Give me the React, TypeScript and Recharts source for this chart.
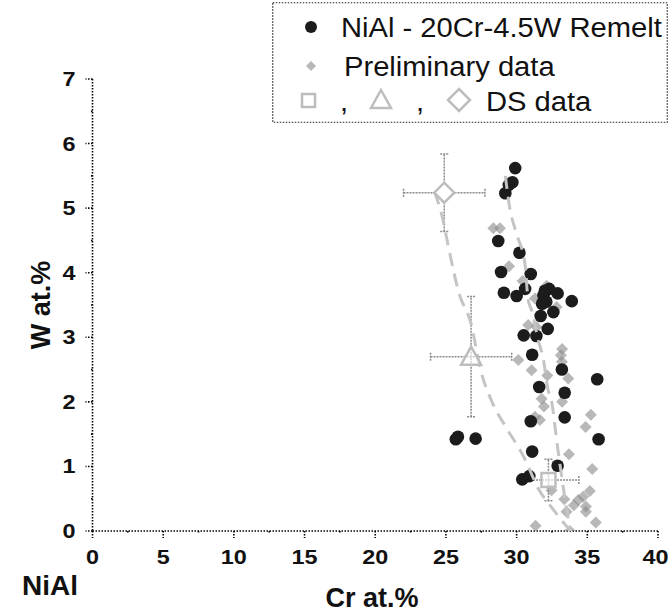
import React from 'react';
import { ScatterChart, Scatter, XAxis, YAxis, ErrorBar, Legend, Customized } from 'recharts';

const FONT = '"Liberation Sans", Arial, Helvetica, sans-serif';

// NiAl - 20Cr-4.5W Remelt (black dots)
const remeltCr = [29.9, 29.7, 29.45, 29.2, 28.7, 30.2, 28.9, 31.0, 29.1, 30.0, 30.6, 32.3, 31.9, 32.9, 32.1, 31.8, 32.0, 32.6, 33.9, 31.7, 32.2, 30.5, 31.4, 31.1, 33.2, 35.7, 31.6, 33.4, 31.0, 33.4, 25.7, 25.85, 27.1, 35.8, 31.1, 32.9, 30.4, 30.9];
const remeltW = [5.62, 5.4, 5.36, 5.23, 4.49, 4.31, 4.01, 3.98, 3.69, 3.64, 3.75, 3.75, 3.65, 3.68, 3.55, 3.52, 3.72, 3.39, 3.56, 3.33, 3.13, 3.03, 3.02, 2.73, 2.5, 2.35, 2.23, 2.14, 1.7, 1.76, 1.42, 1.46, 1.43, 1.42, 1.23, 1.01, 0.8, 0.85];

// Preliminary data (grey diamonds)
const prelimCr = [28.35, 28.82, 29.46, 30.42, 32.12, 31.3, 32.83, 30.82, 31.4, 33.22, 33.13, 30.12, 31.06, 32.17, 33.65, 31.77, 31.93, 33.22, 31.3, 31.65, 35.25, 34.88, 33.7, 35.35, 32.47, 33.37, 35.18, 34.36, 34.71, 34.9, 33.53, 35.6, 31.34, 33.77, 34.05, 34.9, 33.2];
const prelimW = [4.69, 4.69, 4.1, 3.87, 3.8, 3.6, 3.47, 3.19, 3.16, 2.82, 2.72, 2.65, 2.49, 2.41, 2.36, 2.05, 1.93, 2.0, 1.77, 1.72, 1.8, 1.61, 1.19, 0.96, 0.63, 0.49, 0.62, 0.48, 0.53, 0.3, 0.3, 0.13, 0.08, 0.0, 0.4, 0.38, 2.62];

// DS data: square, triangle, diamond
const dsCr = [32.25, 26.78, 24.88];
const dsW = [0.79, 2.7, 5.24];
const dsCrErr = [2.15, 2.87, 2.88];
const dsWErr = [0.32, 0.93, 0.6];

// dashed guide curves
const fitLeftCr = [24.2, 24.7, 25.3, 25.9, 26.8, 27.4, 28.3, 29.3, 30.5, 31.6, 32.6, 33.8];
const fitLeftW = [5.25, 4.9, 4.27, 3.7, 3.19, 2.54, 1.98, 1.59, 1.15, 0.63, 0.33, 0.0];
const fitRightCr = [29.2, 29.5, 30.0, 30.6, 30.8, 31.1, 31.5, 31.9, 32.2, 32.5, 32.8, 33.4, 33.8];
const fitRightW = [5.5, 5.02, 4.6, 4.12, 3.6, 3.39, 2.98, 2.65, 2.21, 1.98, 1.46, 0.53, 0.0];

const xTicks = [0, 2.5, 5, 7.5, 10, 12.5, 15, 17.5, 20, 22.5, 25, 27.5, 30, 32.5, 35, 37.5, 40];
const yTicks = [0, 0.5, 1, 1.5, 2, 2.5, 3, 3.5, 4, 4.5, 5, 5.5, 6, 6.5, 7];

const zip = (xs: number[], ys: number[]) => xs.map((x, i) => ({ x, y: ys[i] }));

const remeltData = zip(remeltCr, remeltW);
const prelimData = zip(prelimCr, prelimW);
const fitLeftData = zip(fitLeftCr, fitLeftW);
const fitRightData = zip(fitRightCr, fitRightW);
const dsData = dsCr.map((x, i) => ({ x, y: dsW[i], ex: dsCrErr[i], ey: dsWErr[i] }));

const DOT = '1.5 1.5';

const XTick = (props: any) => {
  const { x, y, payload } = props;
  const v = payload.value;
  const major = v % 5 === 0;
  const shift = v === 40 ? -2.5 : 0;
  return (
    <g>
      <line x1={x} x2={x} y1={y} y2={y + (major ? 7 : 3)} stroke="#000" strokeWidth={1.6} strokeDasharray={DOT} />
      {major && (
        <text transform={`translate(${x + shift},${y + 33}) scale(1.2,1)`} textAnchor="middle" fontFamily={FONT} fontWeight="bold" fontSize={19.5} fill="#111">
          {v}
        </text>
      )}
    </g>
  );
};

const YTick = (props: any) => {
  const { x, y, payload } = props;
  const v = payload.value;
  const major = Number.isInteger(v);
  return (
    <g>
      <line x1={x} x2={x - (major ? 7 : 3)} y1={y} y2={y} stroke="#000" strokeWidth={1.6} strokeDasharray={DOT} />
      {major && (
        <text transform={`translate(${x - 17},${y + 7}) scale(1.2,1)`} textAnchor="end" fontFamily={FONT} fontWeight="bold" fontSize={19.5} fill="#111">
          {v}
        </text>
      )}
    </g>
  );
};

const diamondPath = (cx: number, cy: number, r: number) => `M${cx},${cy - r}L${cx + r},${cy}L${cx},${cy + r}L${cx - r},${cy}Z`;

const BlackDot = (p: any) => <circle cx={p.cx} cy={p.cy} r={6.3} fill="#1c1c1c" />;
const GreyDiamond = (p: any) => <path d={diamondPath(p.cx, p.cy, 6)} fill="#8c8c8c" fillOpacity={0.62} />;
const Nothing = () => <g />;

const DS_STROKE = '#bdbdbd';
const DsShape = (p: any) => {
  const { cx, cy, index } = p;
  if (index === 0) {
    return <rect x={cx - 7} y={cy - 7} width={14} height={14} fill="#fff" fillOpacity={0.6} stroke={DS_STROKE} strokeWidth={2.5} />;
  }
  if (index === 1) {
    return <path d={`M${cx},${cy - 10}L${cx + 10},${cy + 8}L${cx - 10},${cy + 8}Z`} fill="#fff" fillOpacity={0.6} stroke={DS_STROKE} strokeWidth={2.5} />;
  }
  return <path d={diamondPath(cx, cy, 10)} fill="#fff" stroke={DS_STROKE} strokeWidth={2.5} />;
};

const LText = ({ x, y, children }: any) => (
  <text transform={`translate(${x},${y}) scale(1.08,1)`} fontFamily={FONT} fontSize={27} fill="#111">
    {children}
  </text>
);

const LegendBox = () => (
  <svg width={396} height={121} style={{ display: 'block' }}>
    <rect x={0.75} y={0.75} width={394.5} height={119.5} fill="#fff" stroke="#222" strokeWidth={1.2} strokeDasharray="1.5 1.5" />
    <circle cx={39} cy={25} r={6} fill="#1c1c1c" />
    <LText x={69} y={35}>NiAl - 20Cr-4.5W Remelt</LText>
    <path d={diamondPath(39, 64, 5)} fill="#b8b8b8" />
    <LText x={72} y={74}>Preliminary data</LText>
    <rect x={30} y={92} width={13} height={13} fill="none" stroke={DS_STROKE} strokeWidth={2.5} />
    <LText x={68} y={109}>,</LText>
    <path d="M109,88L119,106L99,106Z" fill="none" stroke={DS_STROKE} strokeWidth={2.5} />
    <LText x={144} y={109}>,</LText>
    <path d={diamondPath(187, 98, 11)} fill="none" stroke={DS_STROKE} strokeWidth={2.5} />
    <LText x={214} y={109}>DS data</LText>
  </svg>
);

const Titles = () => (
  <g fontFamily={FONT} fontWeight="bold" fill="#111">
    <text transform="translate(50,305) rotate(-90)" textAnchor="middle" fontSize={27}>W at.%</text>
    <text x={372} y={607} textAnchor="middle" fontSize={27}>Cr at.%</text>
    <text x={50} y={595} textAnchor="middle" fontSize={28}>NiAl</text>
  </g>
);

export default function App() {
  return (
    <div style={{ position: 'absolute', left: 0, top: 0, width: 670, height: 615, background: '#fff' }}>
      <ScatterChart width={670} height={615} margin={{ top: 79, right: 12, bottom: 0, left: 32.5 }}>
        <XAxis
          type="number"
          dataKey="x"
          domain={[0, 40]}
          ticks={xTicks}
          interval={0}
          allowDataOverflow
          height={84}
          tickSize={0}
          tickMargin={0}
          tickLine={false}
          tick={<XTick />}
          axisLine={{ stroke: '#000', strokeWidth: 1.6, strokeDasharray: DOT }}
        />
        <YAxis
          type="number"
          dataKey="y"
          domain={[0, 7]}
          ticks={yTicks}
          interval={0}
          allowDataOverflow
          width={60}
          tickSize={0}
          tickMargin={0}
          tickLine={false}
          tick={<YTick />}
          axisLine={{ stroke: '#000', strokeWidth: 1.6, strokeDasharray: DOT }}
        />
        <Scatter name="Preliminary data" data={prelimData} shape={GreyDiamond} isAnimationActive={false} />
        <Scatter name="NiAl - 20Cr-4.5W Remelt" data={remeltData} shape={BlackDot} isAnimationActive={false} />
        <Scatter
          name="fit left"
          data={fitLeftData}
          shape={Nothing}
          line={{ stroke: '#c4c4c4', strokeWidth: 3, strokeDasharray: '13 8' }}
          lineJointType="monotoneX"
          legendType="none"
          isAnimationActive={false}
        />
        <Scatter
          name="fit right"
          data={fitRightData}
          shape={Nothing}
          line={{ stroke: '#c4c4c4', strokeWidth: 3, strokeDasharray: '13 8' }}
          lineJointType="monotoneX"
          legendType="none"
          isAnimationActive={false}
        />
        <Scatter name="DS data" data={dsData} shape={DsShape} isAnimationActive={false}>
          <ErrorBar dataKey="ex" direction="x" width={4} stroke="#8a8a8a" strokeWidth={1.5} strokeDasharray="2 1" />
          <ErrorBar dataKey="ey" direction="y" width={4} stroke="#8a8a8a" strokeWidth={1.5} strokeDasharray="2 1" />
        </Scatter>
        <Legend
          layout="horizontal"
          verticalAlign="middle"
          align="center"
          content={() => <LegendBox />}
          wrapperStyle={{ position: 'absolute', left: 272, top: 2, width: 396, height: 121 }}
        />
        <Customized component={Titles} />
      </ScatterChart>
    </div>
  );
}
